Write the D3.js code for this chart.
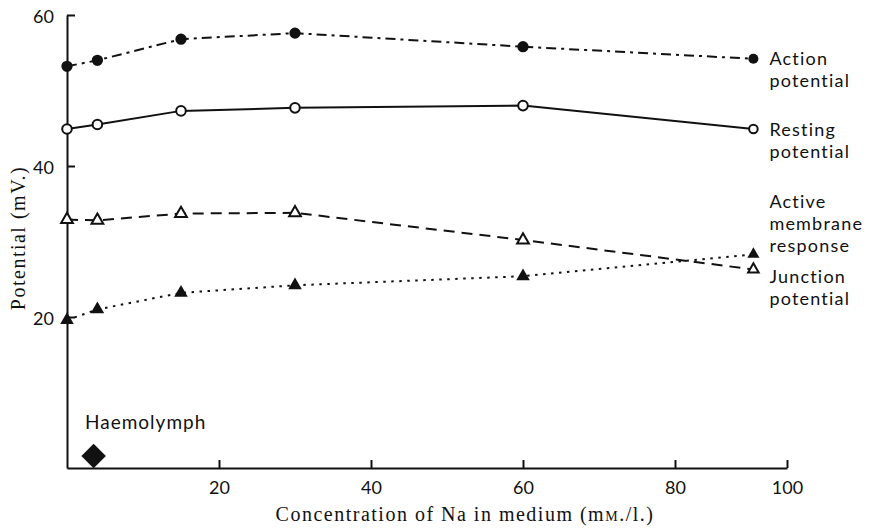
<!DOCTYPE html>
<html>
<head>
<meta charset="utf-8">
<script src="https://cdn.jsdelivr.net/npm/d3@7"></script>
<style>
  body { margin: 0; background: #fff; }
  svg { display: block; }
  .tick text { font-family: Lato, sans-serif; font-size: 18px; fill: #111; }
  .lbl { font-family: Lato, sans-serif; font-size: 18px; letter-spacing: 1.2px; fill: #111; }
  .axtitle { font-family: "Liberation Serif", serif; font-size: 20px; letter-spacing: 1.5px; fill: #111; }
</style>
</head>
<body>
<div id="vis"></div>
<script>
// concentration of Na in medium (mM/l)
const conc = [0, 4, 15, 30, 60, 94];

const actionPotential   = [53.2, 54.0, 56.8, 57.6, 55.8, 54.2];
const restingPotential  = [44.9, 45.5, 47.3, 47.7, 48.0, 44.9];
const activeResponse    = [32.9, 32.8, 33.7, 33.8, 30.2, 26.3];
const junctionPotential = [19.6, 21.0, 23.2, 24.2, 25.4, 28.3];

const haemolymph = {conc: 3.5, value: 1.6};

const xTicks = [20, 40, 60, 80, 100];
const yTicks = [20, 40, 60];

const W = 871, H = 529;

let svg = d3.select("#vis")
    .append("svg")
    .attr("width", W)
    .attr("height", H);

// the printed axis puts the 100 tick closer than the others
let x = d3.scaleLinear()
    .domain([0, 80, 100])
    .range([67, 675, 787]);

let y = d3.scaleLinear()
    .domain([0, 60])
    .range([468, 15]);

////////// axes //////////

svg.append("g")
    .attr("transform", "translate(0," + y(0) + ")")
    .call(d3.axisBottom(x)
        .tickValues(xTicks)
        .tickSizeInner(-8)
        .tickSizeOuter(0)
        .tickPadding(13));

let yAxis = svg.append("g")
    .attr("transform", "translate(" + x(0) + ",0)")
    .call(d3.axisLeft(y)
        .tickValues(yTicks)
        .tickSizeInner(-8)
        .tickSizeOuter(0)
        .tickPadding(13));

svg.selectAll(".domain, .tick line")
    .attr("stroke", "#111")
    .attr("stroke-width", 2);

yAxis.selectAll(".tick text").attr("dy", "0.4em");

svg.append("text")
    .attr("class", "axtitle")
    .attr("text-anchor", "middle")
    .attr("transform", "translate(25,238) rotate(-90)")
    .text("Potential (mV.)");

let xt = svg.append("text")
    .attr("class", "axtitle")
    .attr("text-anchor", "middle")
    .attr("x", 465)
    .attr("y", 521);
xt.append("tspan").text("Concentration of Na in medium (m");
xt.append("tspan").style("font-size", "14px").text("M");
xt.append("tspan").text("./l.)");

////////// series //////////

const series = [
    {values: actionPotential, dash: "10,5,3,5", marker: "circle", filled: true,
     label: ["Action", "potential"], dy: 6},
    {values: restingPotential, dash: null, marker: "circle", filled: false,
     label: ["Resting", "potential"], dy: 7},
    {values: activeResponse, dash: "11,7", marker: "triangle", filled: false,
     label: ["Active", "membrane", "response"], dy: -61},
    {values: junctionPotential, dash: "2.5,5.5", marker: "triangle", filled: true,
     label: ["Junction", "potential"], dy: 29}
];

let line = d3.line()
    .x((d, i) => x(conc[i]))
    .y(d => y(d));

series.forEach(s => {
    svg.append("path")
        .attr("d", line(s.values))
        .attr("fill", "none")
        .attr("stroke", "#111")
        .attr("stroke-width", 2)
        .attr("stroke-dasharray", s.dash);
});

series.forEach(s => {
    svg.append("g")
        .selectAll("path")
        .data(s.values)
        .enter()
        .append("path")
        .attr("transform", (d, i) => "translate(" + x(conc[i]) + "," + y(d) + ")")
        .attr("d", (d, i) => {
            // the end markers are printed a little smaller
            let k = i === s.values.length - 1 ? 0.8 : 1;
            return s.marker === "circle"
                ? d3.symbol(d3.symbolCircle, (s.filled ? 100 : 72) * k)()
                : d3.symbol(d3.symbolTriangle, (s.filled ? 80 : 60) * k)();
        })
        .attr("fill", s.filled ? "#111" : "#fff")
        .attr("stroke", "#111")
        .attr("stroke-width", s.filled ? 0 : 2);

    let last = s.values[s.values.length - 1];
    let lx = x(conc[conc.length - 1]) + 16;
    let ly = y(last) + s.dy;
    svg.append("g")
        .selectAll("text")
        .data(s.label)
        .enter()
        .append("text")
        .attr("class", "lbl")
        .attr("x", lx)
        .attr("y", (d, i) => ly + i * 22)
        .text(d => d);
});

////////// haemolymph //////////

svg.append("path")
    .attr("transform", "translate(" + x(haemolymph.conc) + "," + y(haemolymph.value) + ") rotate(45)")
    .attr("d", d3.symbol(d3.symbolSquare, 300)())
    .attr("fill", "#111");

svg.append("text")
    .attr("class", "lbl")
    .style("font-size", "19px")
    .style("letter-spacing", "1px")
    .attr("x", 85)
    .attr("y", 429)
    .text("Haemolymph");
</script>
</body>
</html>
